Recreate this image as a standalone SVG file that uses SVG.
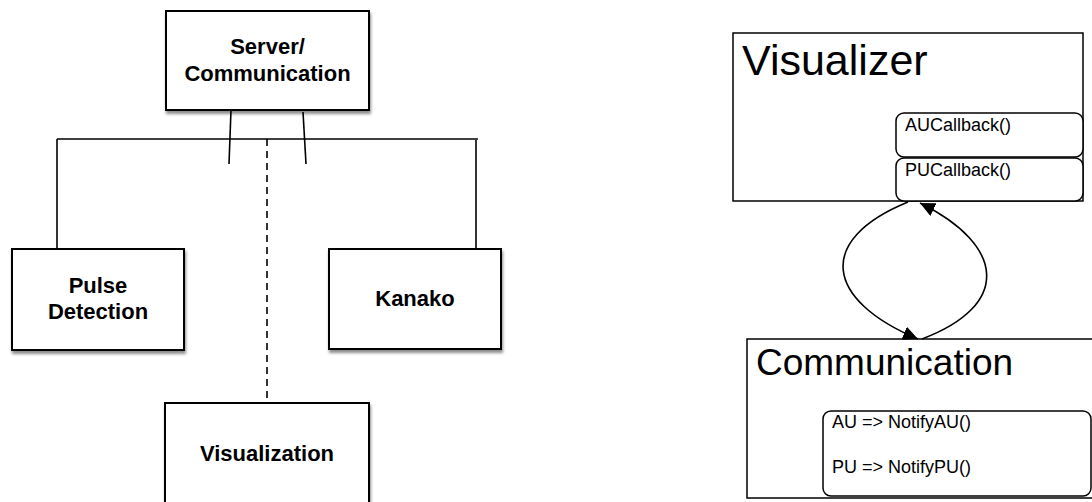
<svg xmlns="http://www.w3.org/2000/svg" width="1092" height="502" viewBox="0 0 1092 502">
  <style>
    .box { fill: #fff; stroke: #000; stroke-width: 2; }
    .bold { font-family: "Liberation Sans", Arial, sans-serif; font-weight: bold; font-size: 22px; fill: #000; text-anchor: middle; }
    .wire { stroke: #000; stroke-width: 1.6; fill: none; }
    .dash { stroke-dasharray: 7 5; }
    .pane { fill: #fff; stroke: #000; stroke-width: 1.5; }
    .slot { fill: #fff; stroke: #000; stroke-width: 1.5; }
    .big { font-family: "Liberation Sans", Arial, sans-serif; fill: #000; }
    .small { font-family: "Liberation Sans", Arial, sans-serif; font-size: 18px; fill: #000; }
    .curve { stroke: #000; stroke-width: 1.6; fill: none; marker-end: url(#head); }
  </style>
  <defs>
    <filter id="shadow" x="-10%" y="-10%" width="130%" height="140%">
      <feDropShadow dx="1" dy="3" stdDeviation="1.8" flood-color="#000" flood-opacity="0.45"/>
    </filter>
    <marker id="head" markerUnits="userSpaceOnUse" markerWidth="16" markerHeight="14" refX="15" refY="7" orient="auto">
      <path d="M0,0 L15,7 L0,14 z" fill="#000"/>
    </marker>
  </defs>

  <rect width="1092" height="502" fill="#fff"/>

  <!-- left: module layout -->
  <g id="connectors">
    <line class="wire" x1="57" y1="139" x2="478" y2="139"/>
    <line class="wire" x1="57" y1="139" x2="57" y2="249"/>
    <line class="wire" x1="476" y1="140" x2="476" y2="249"/>
    <line class="wire" x1="231" y1="110" x2="229" y2="164"/>
    <line class="wire" x1="303" y1="112" x2="306" y2="164"/>
    <line class="wire dash" x1="267" y1="139" x2="267" y2="402"/>
  </g>

  <g id="server">
    <rect class="box" x="166" y="11" width="203" height="99" filter="url(#shadow)"/>
    <text class="bold" x="267.5" y="54">Server/</text>
    <text class="bold" x="267.5" y="81">Communication</text>
  </g>

  <g id="pulse">
    <rect class="box" x="12" y="249" width="172" height="101" filter="url(#shadow)"/>
    <text class="bold" x="98" y="293">Pulse</text>
    <text class="bold" x="98" y="319">Detection</text>
  </g>

  <g id="kanako">
    <rect class="box" x="329" y="249" width="172" height="100" filter="url(#shadow)"/>
    <text class="bold" x="415" y="306">Kanako</text>
  </g>

  <g id="visualization">
    <rect class="box" x="165" y="403" width="204" height="110" filter="url(#shadow)"/>
    <text class="bold" x="267" y="461">Visualization</text>
  </g>

  <!-- right: callback flow -->
  <g id="visualizer">
    <rect class="pane" x="733" y="33" width="350" height="168"/>
    <text class="big" x="742" y="75" font-size="43">Visualizer</text>
    <rect class="slot" x="896" y="113" width="187" height="44" rx="8"/>
    <text class="small" x="905" y="131">AUCallback()</text>
    <rect class="slot" x="896" y="158" width="187" height="43" rx="8"/>
    <text class="small" x="905" y="176">PUCallback()</text>
  </g>

  <g id="communication">
    <rect class="pane" x="747" y="339" width="360" height="159"/>
    <text class="big" x="756" y="375" font-size="37">Communication</text>
    <rect class="slot" x="823" y="411" width="268" height="85" rx="8"/>
    <text class="small" x="832" y="428">AU =&gt; NotifyAU()</text>
    <text class="small" x="832" y="473">PU =&gt; NotifyPU()</text>
  </g>

  <g id="calls">
    <path class="curve" d="M908,202 C815,240 825,300 918,339"/>
    <path class="curve" d="M922,339 C1012,305 1005,245 920,203"/>
  </g>
</svg>
